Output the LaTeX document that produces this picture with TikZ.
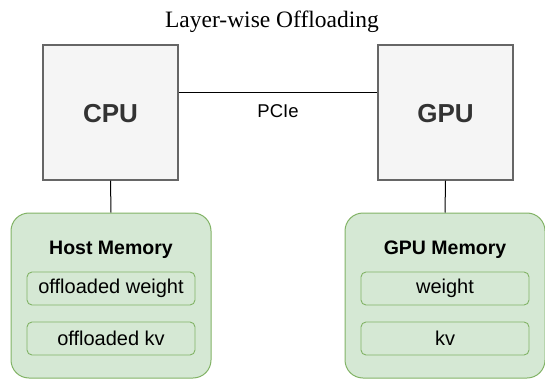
\documentclass[tikz,border=0pt]{standalone}
\usepackage{fontspec}
\setmainfont{Liberation Serif}
\setsansfont{Liberation Sans}
\definecolor{chipfill}{HTML}{F5F5F5}
\definecolor{chipline}{HTML}{666666}
\definecolor{memfill}{HTML}{D5E8D4}
\definecolor{memline}{HTML}{82B366}
\definecolor{chiptext}{HTML}{333333}
\tikzset{
  chip/.style={draw=chipline, fill=chipfill, line width=1.3pt, minimum width=135pt, minimum height=135pt, inner sep=0pt},
  membox/.style={draw=memline, fill=memfill, line width=1pt, rounded corners=18pt, minimum width=200pt, minimum height=165pt, inner sep=0pt},
  slot/.style={draw=memline, fill=memfill, line width=0.9pt, rounded corners=5pt, minimum width=168pt, minimum height=33pt, inner sep=0pt,
    font=\sffamily\fontsize{20}{23}\selectfont},
  chiplabel/.style={font=\sffamily\bfseries\fontsize{26}{30}\selectfont, text=chiptext},
  memlabel/.style={font=\sffamily\bfseries\fontsize{19.5}{23}\selectfont},
  link/.style={draw=black, line width=1pt},
}
\begin{document}
\begin{tikzpicture}[x=1pt, y=-1pt]
  \useasboundingbox (0,0) rectangle (545,379);
  \begin{scope}
    \clip (0,0) rectangle (545,379);
    % title
    \node (title) at (272,22) {\fontsize{23.5}{28}\selectfont Layer-wise Offloading};
    % processors
    \node[chip] (cpu) at (110.5,112.5) {};
    \node[chip] (gpu) at (445.5,112.5) {};
    \node[chiplabel] (cpulbl) at (110.5,114) {CPU};
    \node[chiplabel] (gpulbl) at (445.5,114) {GPU};
    % memories
    \node[membox] (host) at (111,295.5) {};
    \node[membox] (gmem) at (445,295.5) {};
    \node[memlabel] (hostlbl) at (111,250) {Host Memory};
    \node[memlabel] (gmemlbl) at (445,250) {GPU Memory};
    \node[slot] (hw) at (111,288.5) {offloaded weight};
    \node[slot] (hkv) at (111,338.5) {offloaded kv};
    \node[slot] (gw) at (445,288.5) {weight};
    \node[slot] (gkv) at (445,338.5) {kv};
    % links
    \draw[link] (cpu.east |- 0,92.5) -- (gpu.west |- 0,92.5)
      node[midway, below=8pt, font=\sffamily\fontsize{18.5}{22}\selectfont] (pcie) {PCIe};
    \draw[link] (cpu.south) -- (host.north);
    \draw[link] (gpu.south) -- (gmem.north);
  \end{scope}
\end{tikzpicture}
\end{document}
